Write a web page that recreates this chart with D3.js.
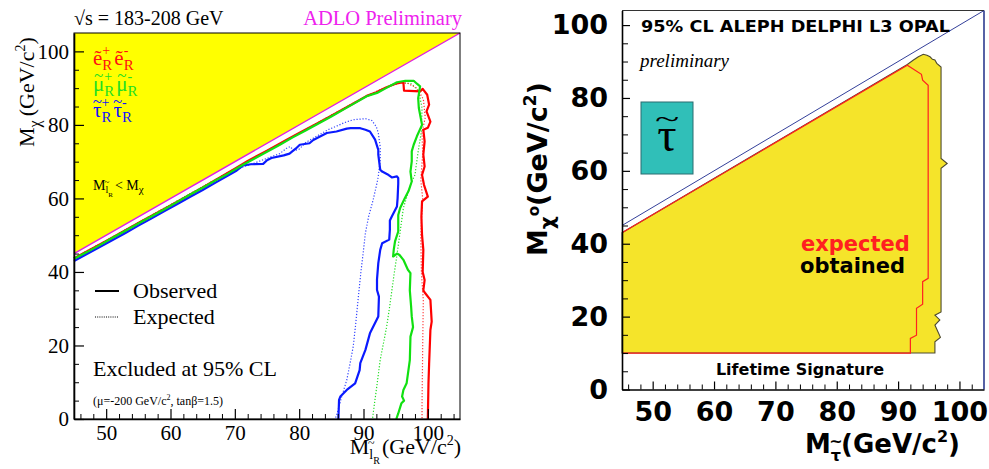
<!DOCTYPE html>
<html><head><meta charset="utf-8">
<script src="https://cdn.jsdelivr.net/npm/d3@7"></script>
<style>body{margin:0;background:#fff}svg{display:block}</style>
</head><body>
<svg id="c" width="989" height="469"></svg>
<script>
// ---------- left panel: slepton / neutralino mass plane (GeV/c^2) ----------
const leftXTicks = [50, 60, 70, 80, 90, 100];
const leftXMinor = [46, 48, 52, 54, 56, 58, 62, 64, 66, 68, 72, 74, 76, 78, 82, 84, 86, 88, 92, 94, 96, 98, 102, 104];
const leftYTicks = [0, 20, 40, 60, 80, 100];
const leftYMinor = [5, 10, 15, 25, 30, 35, 45, 50, 55, 65, 70, 75, 85, 90, 95];
const kinematicLimit = [[45, 45], [105, 105]];
const forbiddenRegion = [[45, 45], [45, 105], [105, 105]];

const selectronObserved = [[45,43.7],[50,48.4],[55,53.3],[60,58.1],[65,63.0],[70,68.1],[72,70.2],[75,73.0],[78,75.9],[80,77.8],[83,80.6],[85,82.5],[88.5,85.9],[90.5,87.9],[92,88.9],[93.5,90.2],[95,91.2],[96.2,91.6],[96.3,89.3],[98.8,89.1],[99.2,89.8],[99.9,88.2],[100.2,85.5],[99.8,83.7],[100.4,80.9],[100.0,79.2],[99.3,78.7],[99.5,75.5],[99.3,71.9],[99.5,68.7],[99.1,66.4],[99.4,63.7],[100.0,60.5],[99.1,59.2],[99.0,55.0],[99.1,50.0],[99.3,46.0],[99.2,40.0],[99.5,37.8],[99.3,35.0],[99.6,34.2],[100.4,32.4],[100.6,26.5],[100.4,24.2],[100.2,15.0],[100.1,9.7],[100.0,0]];
const selectronExpected = [[45,43.8],[50,48.5],[55,53.4],[60,58.2],[65,63.1],[70,68.1],[75,73.0],[80,77.8],[85,82.6],[88.5,86.0],[91,88.3],[93.5,90.3],[95.5,91.3],[96.8,91.4],[98.3,90.0],[99.3,87.0],[99.6,82.0],[99.1,78.0],[99.2,72.0],[98.9,65.0],[99.2,60.0],[98.9,50.0],[99.0,40.0],[99.3,32.0],[99.2,19.0],[99.1,3.0],[99.1,0]];

const smuonObserved = [[45,43.6],[47,45.4],[49,47.3],[51,49.3],[53,51.2],[55,53.2],[57,55.1],[59,57.0],[61,59.0],[63,61.0],[65,62.9],[67,64.9],[69,66.8],[71,68.9],[73,70.8],[75,72.7],[77,74.6],[79,76.6],[81,78.5],[83,80.4],[85,82.3],[87,84.3],[88.5,85.8],[90.5,87.8],[92.1,88.7],[93.5,90.0],[95.2,91.6],[96.5,92.0],[97.8,92.0],[98.3,91.2],[98.8,90.5],[98.5,87.3],[98.6,84.6],[99.1,80.0],[98.3,76.9],[97.8,74.6],[97.5,72.8],[97.5,70.1],[97.3,67.3],[97.5,64.6],[97.0,62.0],[96.4,60.0],[95.7,57.4],[95.4,55.5],[95.4,51.0],[94.9,48.3],[94.7,46.0],[94.6,44.2],[95.2,45.0],[95.6,44.6],[96.2,43.3],[96.9,40.6],[97.3,39.7],[97.2,35.0],[97.4,30.6],[97.5,27.9],[97.7,25.0],[97.3,22.4],[97.2,16.0],[96.7,9.7],[96.2,7.9],[96.0,6.1],[96.3,5.0],[95.9,4.3],[95.4,1.5],[95.1,0]];
const smuonExpected = [[45,43.8],[50,48.5],[55,53.4],[60,58.3],[65,63.2],[70,68.0],[75,72.9],[80,77.7],[85,82.6],[88,85.5],[90.5,87.8],[92.5,89.4],[94.5,91.0],[96.0,91.5],[97.5,91.2],[98.6,89.0],[99.1,84.6],[99.0,78.2],[98.5,72.8],[98.0,66.4],[97.3,63.7],[96.2,57.4],[95.7,51.0],[95.2,44.6],[94.7,38.7],[94.1,31.0],[93.6,25.1],[92.6,16.1],[92.0,8.0],[91.5,1.5],[91.4,0]];

const stauObserved = [[45,43.0],[47,44.9],[49,46.8],[51,48.7],[53,50.6],[55,52.6],[57,54.5],[59,56.5],[61,58.4],[63,60.4],[65,62.3],[67,64.3],[69,66.3],[70.3,67.6],[71.3,69.0],[72.5,69.3],[74.4,69.4],[75.0,70.4],[75.7,71.0],[77.6,71.7],[78.5,72.2],[79.5,73.6],[80.1,74.6],[81.6,75.0],[82.2,75.9],[84.3,77.8],[85.8,78.2],[87.4,79.0],[88.0,79.1],[89.5,79.1],[90.3,78.7],[91.0,78.2],[91.8,76.0],[92.3,73.2],[92.3,71.9],[92.6,67.8],[92.9,67.3],[93.7,66.6],[94.4,65.7],[95.2,66.0],[95.4,65.5],[95.4,64.0],[95.3,60.0],[95.2,57.8],[94.4,55.1],[94.1,54.0],[94.1,51.5],[94.0,48.8],[92.9,47.8],[92.6,46.0],[92.3,42.4],[92.1,38.0],[92.1,35.1],[92.4,33.3],[92.3,27.9],[91.0,23.3],[90.3,18.8],[89.5,15.2],[89.4,13.3],[88.7,9.7],[87.4,7.9],[86.4,6.1],[86.2,5.2],[86.1,0]];
const stauExpected = [[45,43.3],[50,48.1],[55,52.9],[60,57.8],[65,62.6],[69,66.5],[71,68.4],[73,69.6],[75,70.9],[77,72.2],[78.0,73.6],[78.6,74.1],[79.2,73.0],[80.0,73.4],[81.0,75.2],[82.7,76.9],[84.5,78.7],[85.6,79.5],[87.0,80.6],[88.4,81.4],[90.3,81.7],[91.3,81.2],[92.0,79.5],[92.3,77.8],[92.6,74.0],[92.6,70.5],[92.3,66.0],[92.1,64.2],[91.5,59.6],[90.8,55.1],[90.3,50.6],[90.0,46.0],[89.6,40.0],[89.2,33.3],[88.8,26.0],[88.4,19.7],[87.9,15.0],[87.4,10.6],[86.6,6.0],[85.9,1.5],[85.6,0]];

// ---------- right panel: stau / neutralino combined limit ----------
const rightXTicks = [50, 60, 70, 80, 90, 100];
const rightXMinor = [46, 48, 52, 54, 56, 58, 62, 64, 66, 68, 72, 74, 76, 78, 82, 84, 86, 88, 92, 94, 96, 98, 102];
const rightYTicks = [0, 20, 40, 60, 80, 100];
const rightYMinor = [5, 10, 15, 25, 30, 35, 45, 50, 55, 65, 70, 75, 85, 90, 95];
const stauKinematicLimit = [[45, 45], [104, 104]];
const stauObtainedRegion = [[45,43],[91.5,89.2],[92.5,90.4],[93.3,91.3],[94.1,92.0],[94.7,91.7],[95.2,91.3],[95.6,90.6],[96.0,90.4],[96.3,89.5],[97.0,88.5],[97.0,63.4],[98.0,62.0],[97.0,60.7],[97.0,21.3],[96.0,20.4],[96.8,19.1],[96.0,17.7],[96.9,14.3],[96.0,13.1],[96.0,10],[45,10]];
const stauExpectedContour = [[45,43],[91.5,89.0],[93.8,86.5],[94.0,84.9],[94.9,83.5],[94.9,30.5],[94.0,29.6],[94.0,23.4],[93.0,22.3],[93.0,14.9],[92.0,14.0],[92.0,10],[45,10]];

const svg = d3.select('#c');
const SERIF = 'Liberation Serif, Times New Roman, serif';
const BOLD = 'DejaVu Sans, sans-serif';

// Lays out a label from pieces (baseline offset, size, optional tilde accent).
// Returns the group so it can be transformed; anchor 'end' shifts it left by its width.
function richText(parent, x, y, parts, o) {
  const g = parent.append('g');
  let cx = 0;
  parts.forEach(p => {
    const t = g.append('text').attr('x', cx).attr('y', p.dy || 0)
      .attr('font-family', o.family).attr('font-size', p.fs || o.fs)
      .attr('font-weight', o.weight || 'normal').attr('fill', p.fill || o.fill || '#000')
      .text(p.t);
    const w = t.node().getComputedTextLength();
    if (p.tilde) {
      const ts = p.tildeSize || (p.fs || o.fs) * 0.8;
      g.append('text').attr('x', cx + w / 2).attr('y', (p.dy || 0) - p.tilde)
        .attr('text-anchor', 'middle').attr('font-family', o.family).attr('font-size', ts)
        .attr('font-weight', o.weight || 'normal').attr('fill', p.fill || o.fill || '#000').text('~');
    }
    cx += w + (p.gap || 0);
  });
  const shift = o.anchor === 'end' ? -cx : 0;
  g.attr('transform', `translate(${x},${y})${o.rotate ? ' rotate(' + o.rotate + ')' : ''} translate(${shift},0)`);
  return g;
}

// ================= left panel =================
const xL = d3.scaleLinear().domain([45, 105]).range([74, 460]);
const yL = d3.scaleLinear().domain([0, 105]).range([419, 33]);
const lineL = d3.line().x(d => xL(d[0])).y(d => yL(d[1]));
const gL = svg.append('g');

gL.append('path').datum(forbiddenRegion).attr('d', d => lineL(d) + 'Z').attr('fill', '#ffff00');
gL.append('path').datum(kinematicLimit).attr('d', lineL).attr('stroke', '#e020e0').attr('stroke-width', 1.4).attr('fill', 'none');

const curves = [
  {data: stauExpected, color: '#3344ff', dotted: true},
  {data: smuonExpected, color: '#22dd22', dotted: true},
  {data: selectronExpected, color: '#ff3030', dotted: true},
  {data: stauObserved, color: '#0a1aff', dotted: false},
  {data: selectronObserved, color: '#ff0000', dotted: false},
  {data: smuonObserved, color: '#11e011', dotted: false}
];
curves.forEach(c => {
  gL.append('path').datum(c.data).attr('d', lineL).attr('fill', 'none')
    .attr('stroke', c.color)
    .attr('stroke-width', c.dotted ? 1.2 : 2.2)
    .attr('stroke-dasharray', c.dotted ? '1.2,1.8' : null)
    .attr('stroke-linejoin', 'round');
});

gL.append('rect').attr('x', 74).attr('y', 33).attr('width', 386).attr('height', 386)
  .attr('fill', 'none').attr('stroke', '#000').attr('stroke-width', 1);

function styleAxis(g, family, size, weight) {
  g.attr('font-family', family).attr('font-size', size).attr('font-weight', weight);
  g.selectAll('line').attr('stroke', '#000').attr('stroke-width', 1.2);
  g.select('.domain').attr('stroke', '#000').attr('stroke-width', 1.6);
  g.selectAll('text').attr('fill', '#000');
}
gL.append('g').attr('transform', `translate(0,${yL(0)})`)
  .call(d3.axisBottom(xL).tickValues(leftXMinor).tickSize(-5).tickFormat(''))
  .call(g => { g.select('.domain').remove(); g.selectAll('line').attr('stroke', '#000'); });
gL.append('g').attr('transform', `translate(0,${yL(0)})`)
  .call(d3.axisBottom(xL).tickValues(leftXTicks).tickSize(-10).tickSizeOuter(0).tickPadding(6))
  .call(g => styleAxis(g, SERIF, 21, 'normal'));
gL.append('g').attr('transform', `translate(${xL(45)},0)`)
  .call(d3.axisLeft(yL).tickValues(leftYMinor).tickSize(-5).tickFormat(''))
  .call(g => { g.select('.domain').remove(); g.selectAll('line').attr('stroke', '#000'); });
gL.append('g').attr('transform', `translate(${xL(45)},0)`)
  .call(d3.axisLeft(yL).tickValues(leftYTicks).tickSize(-10).tickSizeOuter(0).tickPadding(5))
  .call(g => styleAxis(g, SERIF, 21, 'normal'));

// titles
gL.append('text').attr('x', 74).attr('y', 25).attr('font-family', SERIF).attr('font-size', 20).text('\u221As = 183-208 GeV');
gL.append('text').attr('x', 462).attr('y', 25).attr('text-anchor', 'end').attr('font-family', SERIF).attr('font-size', 20.5).attr('fill', '#ee22ee').text('ADLO Preliminary');

richText(gL, 34, 147, [
  {t: 'M'}, {t: '\u03C7', fs: 16, dy: 6, gap: 4}, {t: '(GeV/c'}, {t: '2', fs: 14, dy: -9}, {t: ')'}
], {family: SERIF, fs: 22, rotate: -90});

richText(gL, 461, 454, [
  {t: 'M'}, {t: 'l', fs: 14, dy: 5, tilde: 12, tildeSize: 12}, {t: 'R', fs: 10, dy: 10, gap: 2},
  {t: '(GeV/c'}, {t: '2', fs: 14, dy: -9}, {t: ')'}
], {family: SERIF, fs: 22, anchor: 'end'});

// sparticle pair legend
function pairLabel(x, y, base, precomposed, color) {
  let cx = x;
  ['+', '\u2011'].forEach(sign => {
    const b = gL.append('text').attr('x', cx).attr('y', y).attr('font-family', SERIF).attr('font-size', 21).attr('fill', color).text(base);
    const w = b.node().getComputedTextLength();
    if (!precomposed) {
      gL.append('text').attr('x', cx + w / 2).attr('y', y - 10).attr('text-anchor', 'middle')
        .attr('font-family', SERIF).attr('font-size', 17).attr('fill', color).text('~');
    }
    cx += w;
    const s = gL.append('text').attr('x', cx).attr('y', y - 10).attr('font-family', SERIF).attr('font-size', 14).attr('fill', color).text(sign);
    const r = gL.append('text').attr('x', cx).attr('y', y + 5).attr('font-family', SERIF).attr('font-size', 15).attr('fill', color).text('R');
    cx += Math.max(s.node().getComputedTextLength(), r.node().getComputedTextLength()) + 2;
  });
}
pairLabel(93, 65, '\u1EBD', true, '#ff1010');
pairLabel(93, 91, '\u03BC', false, '#22e022');
pairLabel(93, 117, '\u03C4', false, '#1010ff');

richText(gL, 93, 190, [
  {t: 'M'}, {t: 'l', fs: 10, dy: 3, tilde: 8, tildeSize: 9}, {t: 'R', fs: 7, dy: 7, gap: 2},
  {t: '< M'}, {t: '\u03C7', fs: 11, dy: 3}
], {family: SERIF, fs: 14});

// line-style legend
gL.append('line').attr('x1', 95).attr('x2', 119).attr('y1', 291).attr('y2', 291).attr('stroke', '#000').attr('stroke-width', 2);
gL.append('line').attr('x1', 95).attr('x2', 119).attr('y1', 317).attr('y2', 317).attr('stroke', '#000').attr('stroke-width', 1).attr('stroke-dasharray', '1,1.2');
gL.append('text').attr('x', 133).attr('y', 298).attr('font-family', SERIF).attr('font-size', 22).text('Observed');
gL.append('text').attr('x', 133).attr('y', 324).attr('font-family', SERIF).attr('font-size', 22).text('Expected');
gL.append('text').attr('x', 93).attr('y', 376).attr('font-family', SERIF).attr('font-size', 22).text('Excluded at 95% CL');
richText(gL, 93, 405, [
  {t: '(\u03BC=-200 GeV/c'}, {t: '2', fs: 8, dy: -5}, {t: ', tan\u03B2=1.5)'}
], {family: SERIF, fs: 12});

// ================= right panel =================
const xR = d3.scaleLinear().domain([45, 104]).range([622, 984]);
const yR = d3.scaleLinear().domain([0, 104]).range([389.5, 10.5]);
const lineR = d3.line().x(d => xR(d[0])).y(d => yR(d[1]));
const gR = svg.append('g');

gR.append('path').datum(stauObtainedRegion).attr('d', d => lineR(d) + 'Z')
  .attr('fill', '#f5e42a').attr('stroke', '#4d4a30').attr('stroke-width', 1.1);
gR.append('path').datum(stauExpectedContour).attr('d', lineR)
  .attr('fill', 'none').attr('stroke', '#ff2020').attr('stroke-width', 1.2);
gR.append('path').datum(stauKinematicLimit).attr('d', lineR)
  .attr('fill', 'none').attr('stroke', '#34409a').attr('stroke-width', 1);

// frame
gR.append('line').attr('x1', 622).attr('x2', 984).attr('y1', 10.5).attr('y2', 10.5).attr('stroke', '#333').attr('stroke-width', 1);
gR.append('line').attr('x1', 984).attr('x2', 984).attr('y1', 10.5).attr('y2', 389.5).attr('stroke', '#2c3a8f').attr('stroke-width', 1.6);

gR.append('g').attr('transform', `translate(0,${yR(0)})`)
  .call(d3.axisBottom(xR).tickValues(rightXMinor).tickSize(-5).tickFormat(''))
  .call(g => { g.select('.domain').remove(); g.selectAll('line').attr('stroke', '#000'); });
gR.append('g').attr('transform', `translate(0,${yR(0)})`)
  .call(d3.axisBottom(xR).tickValues(rightXTicks).tickSize(-8).tickSizeOuter(0).tickPadding(12))
  .call(g => styleAxis(g, BOLD, 27, 'bold'));
gR.append('g').attr('transform', `translate(${xR(45)},0)`)
  .call(d3.axisLeft(yR).tickValues(rightYMinor).tickSize(-6).tickFormat(''))
  .call(g => { g.select('.domain').remove(); g.selectAll('line').attr('stroke', '#000'); });
gR.append('g').attr('transform', `translate(${xR(45)},0)`)
  .call(d3.axisLeft(yR).tickValues(rightYTicks).tickSize(-8).tickSizeOuter(0).tickPadding(14))
  .call(g => styleAxis(g, BOLD, 27, 'bold'));

gR.append('text').attr('x', 641).attr('y', 32).attr('font-family', BOLD).attr('font-weight', 'bold').attr('font-size', 15)
  .attr('textLength', 309).attr('lengthAdjust', 'spacingAndGlyphs').text('95% CL ALEPH DELPHI L3 OPAL');
gR.append('text').attr('x', 640).attr('y', 67).attr('font-family', SERIF).attr('font-style', 'italic').attr('font-size', 19).text('preliminary');

// stau badge
gR.append('rect').attr('x', 641).attr('y', 102).attr('width', 52).attr('height', 72)
  .attr('fill', '#30bfb8').attr('stroke', '#2a6d70').attr('stroke-width', 1);
gR.append('text').attr('x', 667).attr('y', 151).attr('text-anchor', 'middle').attr('font-family', SERIF).attr('font-size', 48).text('\u03C4');
gR.append('text').attr('transform', 'translate(667,128) scale(1.6,1)').attr('text-anchor', 'middle').attr('font-family', SERIF).attr('font-size', 28).text('~');

gR.append('text').attr('x', 801).attr('y', 251).attr('font-family', BOLD).attr('font-weight', 'bold').attr('font-size', 21).attr('fill', '#ff2020').text('expected');
gR.append('text').attr('x', 800).attr('y', 273).attr('font-family', BOLD).attr('font-weight', 'bold').attr('font-size', 21).attr('fill', '#000').text('obtained');
gR.append('text').attr('x', 800).attr('y', 375).attr('text-anchor', 'middle').attr('font-family', BOLD).attr('font-weight', 'bold').attr('font-size', 16).text('Lifetime Signature');

richText(gR, 547, 256, [
  {t: 'M'}, {t: '\u03C7', fs: 20, dy: 7}, {t: 'o', fs: 15, dy: -8},
  {t: '(GeV/c'}, {t: '2', fs: 17, dy: -11}, {t: ')'}
], {family: BOLD, weight: 'bold', fs: 27, rotate: -90});

richText(gR, 960, 453, [
  {t: 'M'}, {t: '\u03C4', fs: 16, dy: 8, tilde: 14, tildeSize: 16},
  {t: '(GeV/c'}, {t: '2', fs: 16, dy: -11}, {t: ')'}
], {family: BOLD, weight: 'bold', fs: 26, anchor: 'end'});
</script>
</body></html>
